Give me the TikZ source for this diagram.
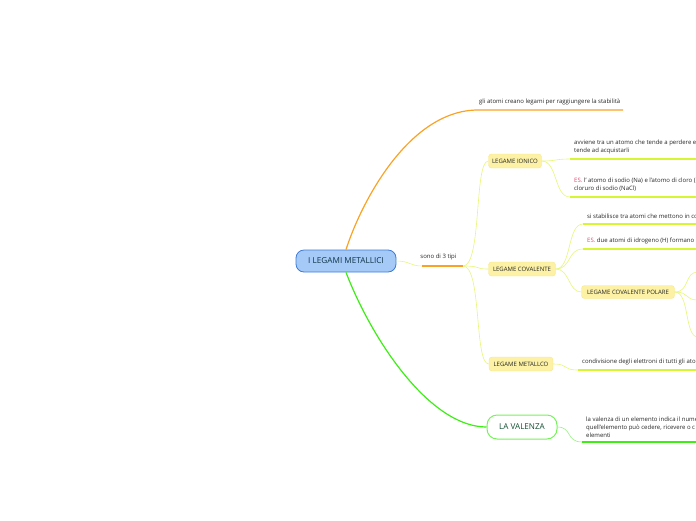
\documentclass[tikz,border=0pt]{standalone}
\usepackage{fontspec}
\setmainfont{Open Sans}
\usetikzlibrary{positioning,calc}
\definecolor{rootfill}{RGB}{166,202,248}
\definecolor{rootline}{RGB}{60,123,216}
\definecolor{roottext}{RGB}{14,52,70}
\definecolor{orangeb}{RGB}{250,162,36}
\definecolor{twigcol}{RGB}{230,246,120}
\definecolor{undercol}{RGB}{214,245,50}
\definecolor{topicfill}{RGB}{252,241,165}
\definecolor{topicline}{RGB}{247,232,140}
\definecolor{greenb}{RGB}{60,238,20}
\definecolor{greentwig}{RGB}{150,242,130}
\definecolor{valtext}{RGB}{18,80,50}
\definecolor{esred}{RGB}{226,70,110}
\newcommand{\es}{{\color{esred}ES.}}

\begin{document}
\begin{tikzpicture}[x=1pt,y=-1pt,font=\fontsize{6}{8}\selectfont,
  root/.style={draw=rootline,fill=rootfill,line width=0.8pt,rounded corners=8pt,
    minimum width=100pt,minimum height=22pt,text=roottext,font=\fontsize{8.2}{9}\selectfont},
  topic/.style={fill=topicfill,draw=topicline,line width=0.4pt,rounded corners=3pt,
    minimum height=14pt,inner xsep=3pt,text=black!85},
  leaf/.style={anchor=south west,align=left,text=black!85,inner sep=1pt},
  twig/.style={draw=twigcol,line width=0.6pt},
  under/.style={draw=undercol,line width=1.7pt}]
  \useasboundingbox (0,0) rectangle (696,520);
  \clip (0,0) rectangle (696,520);

  % central topic and main topics
  \node[root] (root) at (346,261) {I LEGAMI METALLICI};
  \node[topic,minimum width=53pt] (ionico) at (515,161) {LEGAME IONICO};
  \node[topic,minimum width=67pt] (cov) at (522,269) {LEGAME COVALENTE};
  \node[topic,minimum width=64pt] (met) at (521,364) {LEGAME METALLCO};
  \node[topic,minimum width=93pt,minimum height=13pt] (polare) at (628,292) {LEGAME COVALENTE POLARE};
  \node[draw=greenb!70,line width=1pt,fill=white,rounded corners=10pt,minimum width=70pt,
    minimum height=24pt,text=valtext,font=\fontsize{8.1}{9}\selectfont] (val) at (522,427) {LA VALENZA};

  % underlined leaves
  \coordinate (stab) at (478,110);
  \coordinate (tipi) at (422,266);
  \coordinate (tipiend) at (463,266);
  \foreach \n/\x/\y in {ion1/570/159,ion2/570/197,cov1/583/224,cov2/583/249,met1/578/370,val1/582/442}
    \coordinate (\n) at (\x,\y);
  \node[leaf] (stabtxt) at ($(stab)+(0,-4)$) {gli atomi creano legami per raggiungere la stabilità};
  \node[leaf,anchor=south] (tipitxt) at ($(tipi)!0.4!(tipiend)+(0,-5)$) {sono di 3 tipi};
  \node[leaf] (ion1txt) at ($(ion1)+(3,-4)$) {avviene tra un atomo che tende a perdere e\\tende ad acquistarli};
  \node[leaf] (ion2txt) at ($(ion2)+(3,-4)$) {\es{} l' atomo di sodio (Na) e l'atomo di cloro (\\cloruro di sodio (NaCl)};
  \node[leaf] (cov1txt) at ($(cov1)+(3,-4)$) {si stabilisce tra atomi che mettono in co};
  \node[leaf] (cov2txt) at ($(cov2)+(3,-4)$) {\es{} due atomi di idrogeno (H) formano l};
  \node[leaf] (met1txt) at ($(met1)+(3,-4)$) {condivisione degli elettroni di tutti gli ato};
  \node[leaf] (val1txt) at ($(val1)+(3,-3)$) {la valenza di un elemento indica il nume\\quell'elemento può cedere, ricevere o c\\elementi};

  % branches from the centre
  \draw[orangeb,line width=1.2pt] (root.north) .. controls (362,200) and (410,110) .. (stab) -- ++(145,0);
  \draw[greenb,line width=1.2pt] (root.south) .. controls (372,340) and (430,427) .. (val.west);
  \draw[twig] (root.east) .. controls (410,261) and (410,266) .. (tipi);
  \draw[orangeb,line width=1.8pt] (tipi) -- (tipiend);
  \foreach \t in {ionico,cov,met}
    \draw[twig] (tipiend) .. controls (482,266) and (474,0 |- \t.west) .. (\t.west);

  % sub branches
  \foreach \p/\c in {ionico/ion1,ionico/ion2,cov/cov1,cov/cov2,met/met1}
    \draw[twig] (\p.east) .. controls ($(\p.east)+(16,0)$) and ($(\c)+(-16,0)$) .. (\c);
  \foreach \c in {ion1,ion2,cov1,cov2,met1}
    \draw[under] (\c) -- (\c -| 696,0);
  \draw[twig] (cov.east) .. controls (570,269) and (568,292) .. (polare.west);
  \foreach \e in {272,300,337}
    \draw[twig] (polare.east) .. controls (690,292) and (684,\e) .. (698,\e);
  \draw[greentwig,line width=0.6pt] (val.east) .. controls (572,427) and (566,442) .. (val1);
  \draw[greenb,line width=1.7pt] (val1) -- (696,442);
\end{tikzpicture}
\end{document}
